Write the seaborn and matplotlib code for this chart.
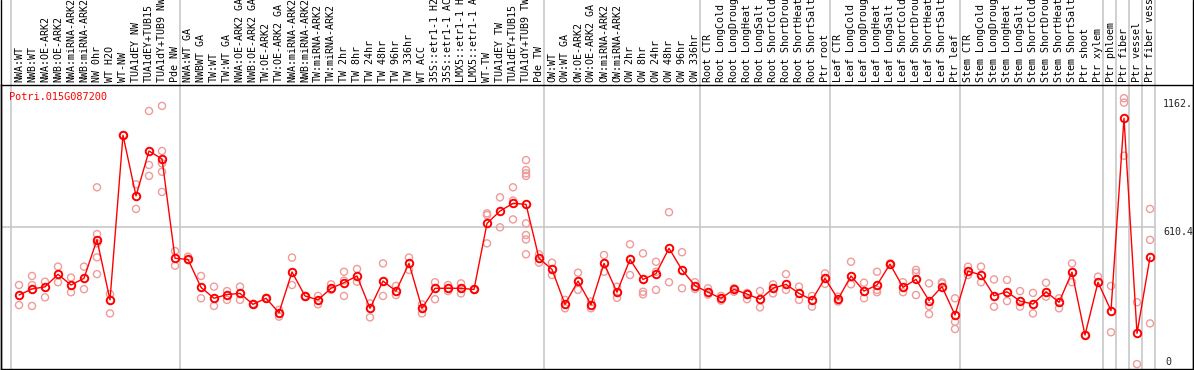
import numpy as np
import pandas as pd
import matplotlib
matplotlib.use("Agg")
import matplotlib.pyplot as plt
import seaborn as sns
from matplotlib.lines import Line2D

gene = "Potri.015G087200"

samples = ["NWA:WT", "NWB:WT", "NWA:OE-ARK2", "NWB:OE-ARK2", "NWA:miRNA-ARK2",
           "NWB:miRNA-ARK2", "NW 0hr", "WT H2O", "WT-NW", "TUA1dEY NW",
           "TUA1dEY+TUB15", "TUA1dY+TUB9 NW", "Pde NW",
           "NWA:WT GA", "NWBWT GA", "TW:WT", "TW:WT GA", "NWA:OE-ARK2 GA",
           "NWB:OE-ARK2 GA", "TW:OE-ARK2", "TW:OE-ARK2 GA", "NWA:miRNA-ARK2",
           "NWB:miRNA-ARK2", "TW:miRNA-ARK2", "TW:miRNA-ARK2", "TW 2hr", "TW 8hr",
           "TW 24hr", "TW 48hr", "TW 96hr", "TW 336hr", "WT ACC", "35S::etr1-1 H2",
           "35S::etr1-1 AC", "LMX5::etr1-1 H", "LMX5::etr1-1 A", "WT-TW",
           "TUA1dEY TW", "TUA1dEY+TUB15", "TUA1dY+TUB9 TW", "Pde TW",
           "OW:WT", "OW:WT GA", "OW:OE-ARK2", "OW:OE-ARK2 GA", "OW:miRNA-ARK2",
           "OW:miRNA-ARK2", "OW 2hr", "OW 8hr", "OW 24hr", "OW 48hr", "OW 96hr",
           "OW 336hr",
           "Root CTR", "Root LongCold", "Root LongDroug", "Root LongHeat",
           "Root LongSalt", "Root ShortCold", "Root ShortDrou", "Root ShortHeat",
           "Root ShortSalt", "Ptr root",
           "Leaf CTR", "Leaf LongCold", "Leaf LongDroug", "Leaf LongHeat",
           "Leaf LongSalt", "Leaf ShortCold", "Leaf ShortDrou", "Leaf ShortHeat",
           "Leaf ShortSalt", "Ptr leaf",
           "Stem CTR", "Stem LongCold", "Stem LongDroug", "Stem LongHeat",
           "Stem LongSalt", "Stem ShortCold", "Stem ShortDrou", "Stem ShortHeat",
           "Stem ShortSalt", "Ptr shoot", "Ptr xylem",
           "Ptr phloem", "Ptr fiber", "Ptr vessel", "Ptr fiber vess"]

# number of samples in each block (separated by grey lines)
group_sizes = [13, 28, 12, 10, 10, 11, 1, 1, 1, 1]

means = [318, 344, 353, 407, 361, 390, 556, 297, 1005, 744, 937, 903, 476,
         471, 351, 304, 320, 325, 278, 304, 242, 417, 314, 297, 347, 371, 400,
         261, 378, 335, 454, 261, 347, 347, 347, 342, 626, 679, 712, 708, 476,
         428, 278, 378, 276, 454, 330, 471, 385, 410, 519, 426, 358,
         330, 304, 342, 322, 300, 347, 364, 325, 297, 390,
         300, 400, 335, 361, 451, 351, 385, 294, 354, 232,
         421, 404, 315, 332, 292, 279, 332, 287, 416, 146, 373,
         251, 1078, 153, 480]

replicates = [[361, 275], [400, 361, 271], [375, 308], [440, 373], [393, 330],
              [440, 343], [781, 580, 540, 480, 408], [322, 239], [1005],
              [794, 688], [1109, 877, 830], [1131, 937, 884, 848, 761],
              [507, 444],
              [483, 468], [400, 304], [354, 271], [335, 297], [354, 297],
              [280, 276], [306, 302], [254, 225], [479, 361], [314, 310],
              [314, 278], [364, 340], [418, 380, 314], [430, 375], [282, 222],
              [454, 314], [357, 318], [479, 426], [278, 239], [373, 300],
              [361, 335], [368, 325], [342, 340], [669, 662, 540], [738, 609],
              [781, 724, 643], [898, 855, 841, 830, 626, 576, 557, 493],
              [493, 457],
              [457, 404], [297, 261], [414, 340], [261, 290], [490, 418],
              [354, 306], [536, 404], [497, 332, 321], [461, 418, 340],
              [674, 373], [502, 347], [373, 344],
              [347, 320], [314, 294], [347, 332], [327, 300], [335, 265],
              [364, 325], [408, 340], [354, 297], [314, 268], [411, 366],
              [311, 290], [461, 364], [371, 304], [418, 330, 340], [454, 448],
              [373, 330], [426, 414, 318], [368, 271, 236], [373, 368],
              [304, 203, 172],
              [440, 404], [440, 373], [385, 268], [383, 292], [335, 268],
              [327, 239], [371, 311], [304, 261], [454, 373], [146], [397],
              [357, 158], [1164, 1145, 917], [287, 21], [688, 555, 196]]

ymax = 1220.8
mid_label = "610.4"
top_label = "1162."

####################################################################################

mean_df = pd.DataFrame({"pos": np.arange(len(samples)), "value": means})
rep_df = pd.DataFrame([(i, v) for i, vals in enumerate(replicates) for v in vals],
                      columns=["pos", "value"])

sns.set_style("white")
plt.rcParams["font.family"] = ["DejaVu Sans Mono"]

W, H = 1194, 370
fig = plt.figure(figsize=(W / 100, H / 100), dpi=100)
# plot region: x 1..1193 px, y 85..369 px (from top)
ax = fig.add_axes([1 / W, 1 / H, 1192 / W, 284 / H])
ax.set_xlim((1 - 19) / 13, (1193 - 19) / 13)
ax.set_ylim(0, ymax)

grey = "#c4c4c4"
top_ext = 1 + 85 / 284

# group separators, running up through the label area
bounds = np.concatenate([[0], np.cumsum(group_sizes)]) - 0.6
for b in bounds:
    ax.axvline(b, ymin=0, ymax=top_ext, color=grey, lw=1.1, clip_on=False, zorder=0)
ax.axhline(float(mid_label), xmin=0, xmax=(1155 - 1) / 1192, color=grey, lw=1.1, zorder=0)

sns.scatterplot(data=rep_df, x="pos", y="value", ax=ax, marker="o", s=26,
                facecolor="none", edgecolor="#f09a9a", linewidth=1.0, zorder=2,
                legend=False)
sns.lineplot(data=mean_df, x="pos", y="value", ax=ax, color="red", lw=1.0,
             marker="o", markersize=5.4, markerfacecolor="none",
             markeredgecolor="red", markeredgewidth=1.4, zorder=3)

# sample names along the top
for i, name in enumerate(samples):
    ax.text(i, 1 + 3 / 284, name, transform=ax.get_xaxis_transform(),
            rotation=90, ha="center", va="bottom", fontsize=7.2, color="black",
            clip_on=False)

ax.text(8.3 / 1192, (369 - 97) / 284, gene, transform=ax.transAxes,
        color="red", fontsize=7.4, ha="left", va="center")

# value labels on the right
xr = (1163 - 19) / 13
ax.text(xr, 1162, top_label, ha="left", va="top", fontsize=7.2)
ax.text(xr, float(mid_label), mid_label, ha="left", va="top", fontsize=7.2)
ax.text(xr + 0.2, 8, "0", ha="left", va="bottom", fontsize=7.2)

ax.set_xticks([])
ax.set_yticks([])
ax.set_xlabel("")
ax.set_ylabel("")
for side in ["left", "right", "top", "bottom"]:
    ax.spines[side].set_color("black")
    ax.spines[side].set_linewidth(1.0)

# outer frame sides extend up to the top edge
for xpx in [1, 1193]:
    fig.add_artist(Line2D([xpx / W, xpx / W], [1 / H, 1], color="black", lw=1.0))

fig.savefig("out.png", dpi=100)
